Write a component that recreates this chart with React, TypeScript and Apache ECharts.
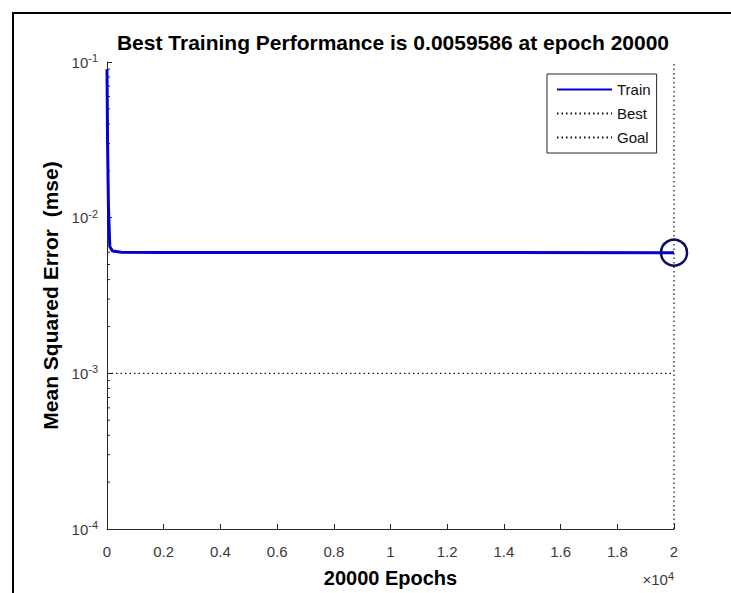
import React, { useEffect, useRef } from "react";
import * as echarts from "echarts";

const trainEpochs = [0, 20, 50, 100, 200, 500, 2000, 8000, 20000];
const trainMse = [0.09, 0.03, 0.012, 0.0065, 0.0061, 0.006, 0.00598, 0.00597, 0.0059586];
const bestEpoch = 20000;
const bestMse = 0.0059586;
const goalMse = 0.001;
const yMin = 1e-4;
const yMax = 0.1;
const xMax = 20000;
const xInterval = 2000;
const minorTickValues = [
  2e-4, 3e-4, 4e-4, 5e-4, 6e-4, 7e-4, 8e-4, 9e-4,
  2e-3, 3e-3, 4e-3, 5e-3, 6e-3, 7e-3, 8e-3, 9e-3,
  2e-2, 3e-2, 4e-2, 5e-2, 6e-2, 7e-2, 8e-2, 9e-2,
];
const titleText = "Best Training Performance is 0.0059586 at epoch 20000";
const xName = "20000 Epochs";
const yName = "Mean Squared Error  (mse)";

const AXIS = "#262626";
const LABEL = "#3a3a3a";
const FONT = "'Liberation Sans', Arial, sans-serif";

export default function App() {
  const ref = useRef<HTMLDivElement>(null);
  useEffect(() => {
    if (!ref.current) return;
    const chart = echarts.init(ref.current, undefined, { renderer: "svg" });
    const trainData = trainEpochs.map((e, i) => [e, trainMse[i]]);
    chart.setOption({
      animation: false,
      backgroundColor: "#ffffff",
      textStyle: { fontFamily: FONT },
      title: {
        text: titleText,
        left: 388,
        top: 27,
        textAlign: "center",
        textStyle: { fontFamily: FONT, fontSize: 21, fontWeight: "bold", color: "#000" },
      },
      grid: { left: 107, right: 57, top: 62, bottom: 60 },
      legend: {
        orient: "vertical",
        left: 547,
        top: 74,
        data: ["Train", "Best", "Goal"],
        itemWidth: 55,
        itemHeight: 14,
        itemGap: 9,
        padding: [8, 6, 8, 9],
        borderColor: AXIS,
        borderWidth: 1,
        borderRadius: 0,
        backgroundColor: "#fff",
        itemStyle: { opacity: 0 },
        textStyle: { fontFamily: FONT, fontSize: 15, color: "#111" },
      },
      xAxis: {
        type: "value",
        min: 0,
        max: xMax,
        interval: xInterval,
        name: xName,
        nameLocation: "middle",
        nameGap: 39,
        nameTextStyle: { fontFamily: FONT, fontSize: 20, fontWeight: "bold", color: "#000" },
        axisLine: { show: true, lineStyle: { color: AXIS, width: 1 } },
        axisTick: { show: true, inside: true, length: 5, lineStyle: { color: AXIS } },
        axisLabel: {
          fontFamily: FONT,
          fontSize: 15,
          color: LABEL,
          margin: 15,
          formatter: (v: number) => String(v / 10000),
        },
        splitLine: { show: false },
      },
      yAxis: {
        type: "log",
        logBase: 10,
        min: yMin,
        max: yMax,
        name: yName,
        nameLocation: "middle",
        nameGap: 46,
        nameRotate: 90,
        nameTextStyle: { fontFamily: FONT, fontSize: 21, fontWeight: "bold", color: "#000" },
        axisLine: { show: true, lineStyle: { color: AXIS, width: 1 } },
        axisTick: { show: true, inside: true, length: 5, lineStyle: { color: AXIS } },
        axisLabel: {
          margin: 9,
          formatter: (v: number) => `{b|10}{s|${Math.round(Math.log10(v))}}`,
          rich: {
            b: { fontFamily: FONT, fontSize: 15, color: LABEL },
            s: { fontFamily: FONT, fontSize: 11, color: LABEL, padding: [0, 0, 8, 0] },
          },
        },
        splitLine: { show: false },
      },
      series: [
        {
          name: "Train",
          type: "line",
          data: trainData,
          showSymbol: false,
          symbol: "none",
          lineStyle: { color: "#0000d4", width: 3 },
          itemStyle: { color: "#0000d4" },
          z: 5,
        },
        {
          name: "Best",
          type: "line",
          data: [[bestEpoch, yMin], [bestEpoch, yMax]],
          symbol: "none",
          lineStyle: { color: "#111", width: 1.2, type: [1.5, 3] },
          itemStyle: { color: "#111" },
          z: 3,
        },
        {
          name: "Goal",
          type: "line",
          data: [[0, goalMse], [xMax, goalMse]],
          symbol: "none",
          lineStyle: { color: "#111", width: 1.2, type: [1.5, 3] },
          itemStyle: { color: "#111" },
          z: 3,
        },
        {
          name: "BestPoint",
          type: "scatter",
          data: [[bestEpoch, bestMse]],
          symbol: "circle",
          symbolSize: 26,
          itemStyle: {
            color: "rgba(0,0,0,0)",
            borderColor: "#0c0c66",
            borderWidth: 2.5,
            opacity: 1,
          },
          z: 6,
          silent: true,
        },
        {
          name: "minorTicks",
          type: "custom",
          data: minorTickValues.map((v) => [0, v]),
          encode: { x: 0, y: 1 },
          silent: true,
          renderItem: (params: any, api: any) => {
            const p = api.coord([0, api.value(1)]);
            return {
              type: "line",
              shape: { x1: p[0], y1: p[1], x2: p[0] + 3, y2: p[1] },
              style: { stroke: AXIS, lineWidth: 1 },
            };
          },
        },
      ],
      graphic: [
        {
          type: "line",
          shape: { x1: 12, y1: 13, x2: 731, y2: 13 },
          style: { stroke: "#000", lineWidth: 2 },
        },
        {
          type: "line",
          shape: { x1: 13, y1: 12, x2: 13, y2: 593 },
          style: { stroke: "#000", lineWidth: 2 },
        },
        {
          type: "text",
          x: 674,
          y: 570,
          style: {
            text: "\u00d710{s|4}",
            textAlign: "right",
            fill: LABEL,
            font: `15px ${FONT}`,
            rich: { s: { fontFamily: FONT, fontSize: 11, fill: LABEL, padding: [0, 0, 8, 0] } },
          } as any,
        },
      ],
    });
    return () => chart.dispose();
  }, []);
  return (
    <div
      ref={ref}
      style={{ position: "fixed", left: 0, top: 0, width: 731, height: 593, background: "#fff" }}
    />
  );
}
